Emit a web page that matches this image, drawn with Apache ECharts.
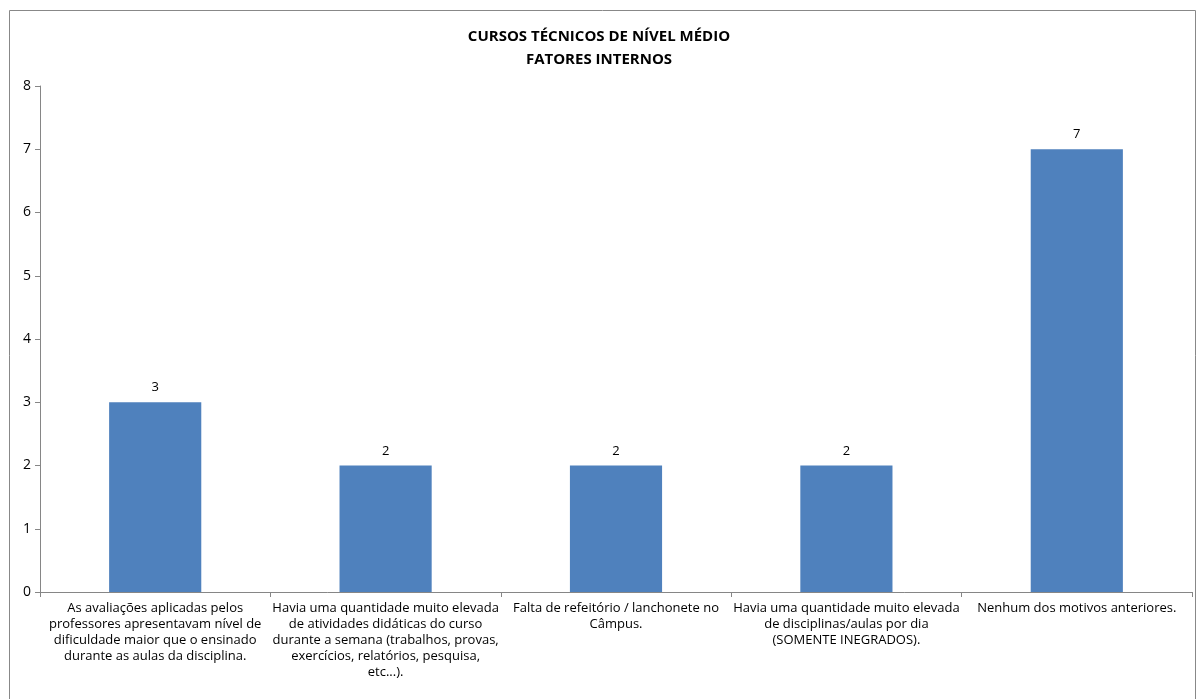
<!DOCTYPE html>
<html><head><meta charset="utf-8">
<script src="https://cdn.jsdelivr.net/npm/echarts@6/dist/echarts.min.js"></script>
<style>html,body{margin:0;padding:0;background:#fff}#c{width:1198px;height:699px}</style>
</head><body><div id="c"></div>
<script>
const titleLines = ['CURSOS TÉCNICOS DE NÍVEL MÉDIO', 'FATORES INTERNOS'];
const categories = [
  'As avaliações aplicadas pelos\nprofessores apresentavam nível de\ndificuldade maior que o ensinado\ndurante as aulas da disciplina.',
  'Havia uma quantidade muito elevada\nde atividades didáticas do curso\ndurante a semana (trabalhos, provas,\nexercícios, relatórios, pesquisa,\netc...).',
  'Falta de refeitório / lanchonete no\nCâmpus.',
  'Havia uma quantidade muito elevada\nde disciplinas/aulas por dia\n(SOMENTE INEGRADOS).',
  'Nenhum dos motivos anteriores.'
];
const values = [3, 2, 2, 2, 7];
const yTicks = [0, 1, 2, 3, 4, 5, 6, 7, 8];

const font = "'Open Sans', sans-serif";
const chart = echarts.init(document.getElementById('c'), null, {renderer: 'canvas'});
chart.setOption({
  animation: false,
  graphic: [{
    type: 'rect', shape: {x: 9.5, y: 10.5, width: 1186, height: 700},
    style: {fill: 'none', stroke: '#888', lineWidth: 1}, silent: true
  }],
  title: {
    text: titleLines.join('\n'), left: 'center', top: 20,
    textStyle: {fontFamily: font, fontSize: 15, fontWeight: 'bold', color: '#000', lineHeight: 23}
  },
  grid: {left: 40, right: 6, top: 86, bottom: 107},
  xAxis: {
    type: 'category', data: categories,
    axisLine: {lineStyle: {color: '#868686'}},
    axisTick: {show: true, alignWithLabel: false, length: 5, lineStyle: {color: '#868686'}},
    axisLabel: {interval: 0, color: '#000', fontFamily: font, fontSize: 13, lineHeight: 16, margin: 8, align: 'center', verticalAlign: 'top'}
  },
  yAxis: {
    type: 'value', min: 0, max: 8, interval: 1,
    axisLine: {show: true, lineStyle: {color: '#868686'}},
    axisTick: {show: true, length: 5, lineStyle: {color: '#868686'}},
    splitLine: {show: false},
    axisLabel: {color: '#000', fontFamily: font, fontSize: 14, margin: 9,
      formatter: v => yTicks.includes(v) ? String(v) : ''}
  },
  series: [{
    type: 'bar', data: values, barWidth: '40%',
    itemStyle: {color: '#4F81BD'},
    label: {show: true, position: 'top', distance: 8, color: '#000', fontFamily: font, fontSize: 13}
  }]
});
</script></body></html>
